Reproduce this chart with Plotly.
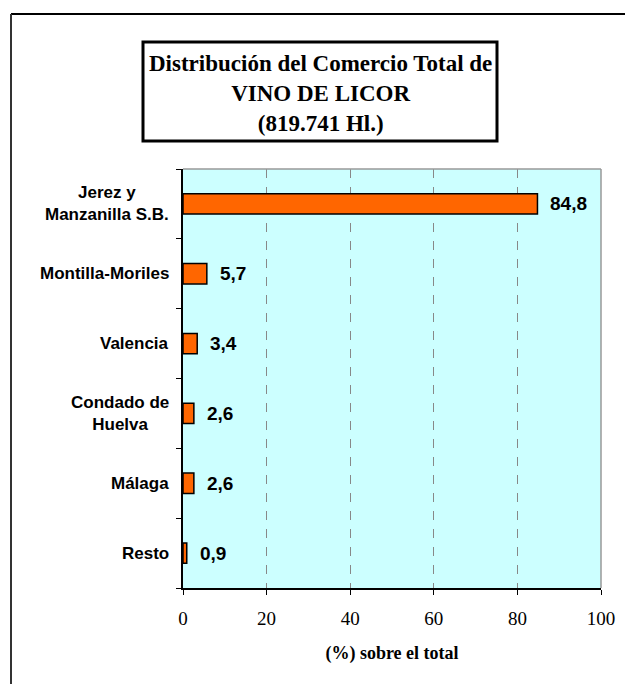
import plotly.graph_objects as go

categories = ["Jerez y<br>Manzanilla S.B.", "Montilla-Moriles", "Valencia",
              "Condado de<br>Huelva", "Málaga", "Resto"]
values = [84.8, 5.7, 3.4, 2.6, 2.6, 0.9]
x_ticks = [0, 20, 40, 60, 80, 100]
title_lines = ["Distribución del Comercio Total de", "VINO DE LICOR", "(819.741 Hl.)"]
x_title = "(%) sobre el total"

# page has 8px body margin; work in page coordinates and compensate
O = 8
W, H = 633 - O, 684 - O
L, R, T, B = 183, 601, 169, 588
pw, ph = R - L, B - T

def px(x):
    return (x - L) / pw

def py(y):
    return (B - y) / ph

fig = go.Figure()
fig.add_trace(go.Bar(
    y=categories, x=values, orientation="h",
    marker=dict(color="#FF6600", line=dict(color="black", width=1.5)),
    width=0.29, hoverinfo="skip",
))

annotations = []
for c, v in zip(categories, values):
    annotations.append(dict(
        x=v, y=c, xref="x", yref="y", text=f"{v:.1f}".replace(".", ","),
        showarrow=False, xanchor="left", xshift=11,
        font=dict(family="Liberation Sans, Arial", size=19, color="black", weight="bold"),
    ))
    # category labels, centred multi-line like the original
    annotations.append(dict(
        x=0, y=c, xref="paper", yref="y", text=f"<b>{c}</b>",
        showarrow=False, xanchor="right", yanchor="middle", align="center",
        xshift=-12,
        font=dict(family="Liberation Sans, Arial", size=17, color="black"),
    ))

annotations.append(dict(
    x=(px(143) + px(497)) / 2, y=py(93), xref="paper", yref="paper",
    text="<br>".join(f"<b>{t}</b>" for t in title_lines), showarrow=False,
    font=dict(family="Liberation Serif, Times New Roman", size=23, color="black"),
    xanchor="center", yanchor="middle", align="center",
))

shapes = [
    dict(type="rect", xref="paper", yref="paper", x0=px(143), x1=px(497),
         y0=py(141), y1=py(42), line=dict(color="black", width=3), fillcolor="white"),
    # outer frame (top and left visible)
    dict(type="line", xref="paper", yref="paper", x0=px(11), x1=px(700),
         y0=py(14), y1=py(14), line=dict(color="black", width=2)),
    dict(type="line", xref="paper", yref="paper", x0=px(11), x1=px(11),
         y0=py(14), y1=py(720), line=dict(color="#333333", width=2)),
    # plot border top & right
    dict(type="line", xref="paper", yref="paper", x0=0, x1=1, y0=1, y1=1,
         line=dict(color="#999999", width=1.5)),
    dict(type="line", xref="paper", yref="paper", x0=1, x1=1, y0=0, y1=1,
         line=dict(color="#999999", width=1.5)),
]

fig.update_layout(
    width=W, height=H,
    margin=dict(l=L - O, r=633 - R, t=T - O, b=684 - B, pad=0),
    paper_bgcolor="white", plot_bgcolor="#CCFFFF",
    showlegend=False, bargap=0.71,
    annotations=annotations, shapes=shapes,
    xaxis=dict(
        range=[0, 100], tickvals=x_ticks, ticks="outside", ticklen=5,
        tickcolor="black", showline=True, linecolor="black", linewidth=1.5,
        showgrid=True, gridcolor="#888888", griddash="dash", gridwidth=1,
        zeroline=False,
        tickfont=dict(family="Liberation Serif, Times New Roman", size=19, color="black"),
        ticklabelstandoff=7,
        title=dict(text=f"<b>{x_title}</b>", standoff=19,
                   font=dict(family="Liberation Serif, Times New Roman", size=18, color="black")),
        fixedrange=True,
    ),
    yaxis=dict(
        categoryorder="array", categoryarray=categories[::-1],
        autorange=False, range=[-0.5, 5.5],
        ticks="outside", ticklen=5, tickcolor="black", tickson="boundaries",
        showline=True, linecolor="black", linewidth=1.5, showgrid=False,
        showticklabels=False, fixedrange=True,
    ),
)

fig.write_html("out.html")
